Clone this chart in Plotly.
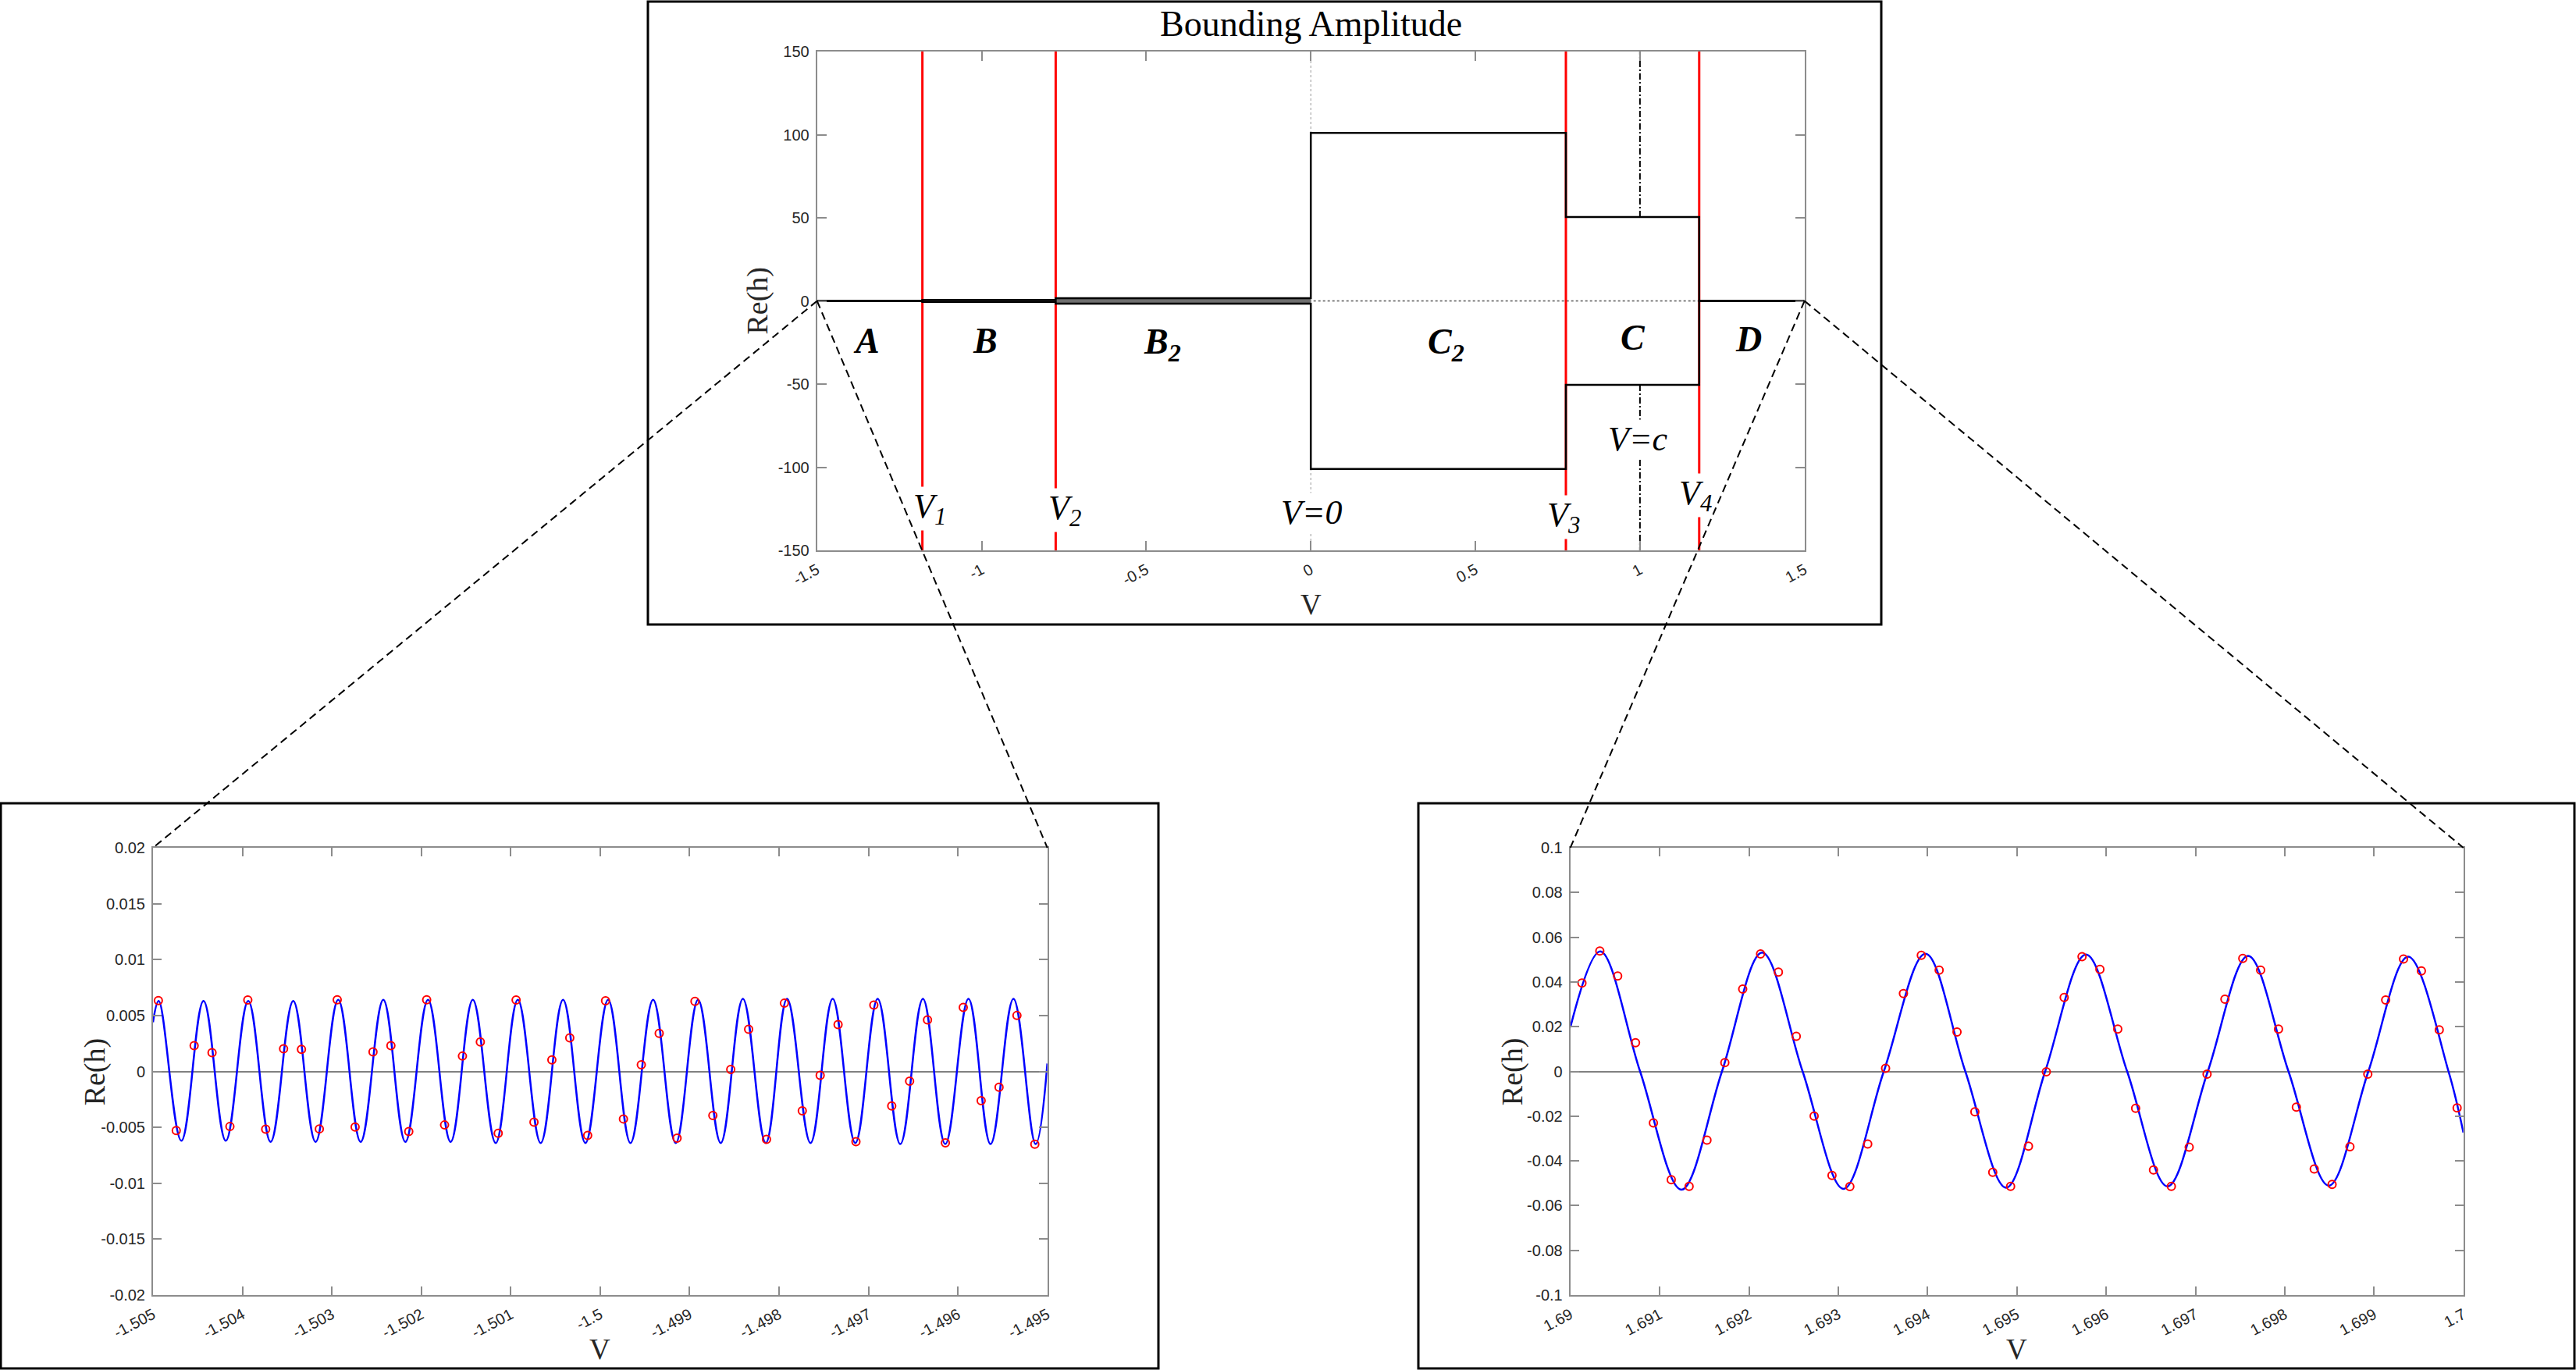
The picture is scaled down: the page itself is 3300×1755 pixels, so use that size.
import plotly.graph_objects as go

W, H = 3300, 1755

# ---------------- top panel: bounding amplitude ----------------
edges = [-1.5, -1.18, -0.775, 0.0, 0.775, 1.18, 1.5]
upper_env = [0, 0.6, 1.6, 101, 50.5, 0]
lower_env = [0, -0.6, -1.6, -101, -50.5, 0]
v_marks = [-1.18, -0.775, 0.775, 1.18]
v_c = 1.0
top_xrange = [-1.5, 1.5]
top_yrange = [-150, 150]
top_xticks = [-1.5, -1, -0.5, 0, 0.5, 1, 1.5]
top_xtext = ['-1.5', '-1', '-0.5', '0', '0.5', '1', '1.5']
top_yticks = [-150, -100, -50, 0, 50, 100, 150]
top_ytext = ['-150', '-100', '-50', '0', '50', '100', '150']
region_names = ['A', 'B', 'B<sub>2</sub>', 'C<sub>2</sub>', 'C', 'D']
v_names = ['V<sub>1</sub>', 'V<sub>2</sub>', 'V=0', 'V<sub>3</sub>', 'V<sub>4</sub>', 'V=c']

# label placement (data coords of the top axes)
region_lx = [-1.35, -0.99, -0.45, 0.41, 0.98, 1.33]
region_ly = [-24, -24, -26, -26, -22, -23]
vlab_x = [-1.158, -0.748, 0.002, 0.768, 1.168, 0.994]
vlab_y = [-125, -126, -127, -130, -117, -83]

# ---------------- bottom-left zoom ----------------
bl_xrange = [-1.505, -1.495]
bl_yrange = [-0.02, 0.02]
bl_xticks = [-1.505, -1.504, -1.503, -1.502, -1.501, -1.5, -1.499, -1.498, -1.497, -1.496, -1.495]
bl_xtext = ['-1.505', '-1.504', '-1.503', '-1.502', '-1.501', '-1.5', '-1.499', '-1.498', '-1.497', '-1.496', '-1.495']
bl_yticks = [-0.02, -0.015, -0.01, -0.005, 0, 0.005, 0.01, 0.015, 0.02]
bl_ytext = ['-0.02', '-0.015', '-0.01', '-0.005', '0', '0.005', '0.01', '0.015', '0.02']

bl_peak_x = [-1.504936, -1.504435, -1.503935, -1.503432, -1.502929, -1.502425, -1.501925,
             -1.501424, -1.500921, -1.500415, -1.499911, -1.499408, -1.498905, -1.498404,
             -1.497910, -1.497400, -1.496897, -1.496391, -1.495882, -1.495379]
bl_peak_y = [0.0063, 0.0063, 0.0063, 0.0063, 0.0064, 0.0064, 0.0064, 0.0064, 0.0064, 0.0064,
             0.0064, 0.0064, 0.0064, 0.0065, 0.0065, 0.0065, 0.0065, 0.0065, 0.0065, 0.0065]
bl_trough_x = [-1.504683, -1.504186, -1.503685, -1.503182, -1.502678, -1.502178, -1.501672,
               -1.501168, -1.500665, -1.500165, -1.499661, -1.499155, -1.498652, -1.498148,
               -1.497648, -1.497147, -1.496644, -1.496141, -1.495635, -1.495131]
bl_trough_y = [-0.0062, -0.0062, -0.0063, -0.0063, -0.0063, -0.0063, -0.0063, -0.0064, -0.0064,
               -0.0064, -0.0064, -0.0064, -0.0064, -0.0064, -0.0064, -0.0064, -0.0065, -0.0065,
               -0.0065, -0.0065]
bl_edge_x = [-1.505, -1.495]
bl_edge_y = [0.0044, 0.0007]

bl_samp_x = [-1.50494, -1.50474, -1.50454, -1.50434, -1.50414, -1.50394, -1.50374, -1.50354,
             -1.50334, -1.50314, -1.50294, -1.50274, -1.50254, -1.50234, -1.50214, -1.50194,
             -1.50174, -1.50154, -1.50134, -1.50114, -1.50094, -1.50074, -1.50054, -1.50034,
             -1.50014, -1.49994, -1.49974, -1.49954, -1.49934, -1.49914, -1.49894, -1.49874,
             -1.49854, -1.49834, -1.49814, -1.49794, -1.49774, -1.49754, -1.49734, -1.49714,
             -1.49694, -1.49674, -1.49654, -1.49634, -1.49614, -1.49594, -1.49574, -1.49554,
             -1.49534, -1.49514]
bl_samp_y = [0.00633, -0.00528, 0.0023, 0.00168, -0.00493, 0.00638, -0.00516, 0.00202, 0.00198,
             -0.00514, 0.0064, -0.00498, 0.00175, 0.0023, -0.00537, 0.0064, -0.00479, 0.00137,
             0.00263, -0.00553, 0.00638, -0.00453, 0.00103, 0.003, -0.00572, 0.00631, -0.00425,
             0.00059, 0.0034, -0.00597, 0.00626, -0.00395, 0.00017, 0.00377, -0.00608, 0.0061,
             -0.00353, -0.00035, 0.00419, -0.00628, 0.00593, -0.00309, -0.00088, 0.00461,
             -0.00639, 0.00572, -0.00262, -0.00142, 0.005, -0.00651]

# ---------------- bottom-right zoom ----------------
br_xrange = [1.69, 1.7]
br_yrange = [-0.1, 0.1]
br_xticks = [1.69, 1.691, 1.692, 1.693, 1.694, 1.695, 1.696, 1.697, 1.698, 1.699, 1.7]
br_xtext = ['1.69', '1.691', '1.692', '1.693', '1.694', '1.695', '1.696', '1.697', '1.698', '1.699', '1.7']
br_yticks = [-0.1, -0.08, -0.06, -0.04, -0.02, 0, 0.02, 0.04, 0.06, 0.08, 0.1]
br_ytext = ['-0.1', '-0.08', '-0.06', '-0.04', '-0.02', '0', '0.02', '0.04', '0.06', '0.08', '0.1']

br_peak_x = [1.690335, 1.692147, 1.693977, 1.695774, 1.697590, 1.699382]
br_peak_y = [0.0537, 0.0531, 0.0526, 0.0523, 0.0517, 0.0513]
br_trough_x = [1.691244, 1.693059, 1.694880, 1.696687, 1.698493]
br_trough_y = [-0.0529, -0.0525, -0.052, -0.0514, -0.0511]
br_zero_x = [1.690781, 1.691698, 1.692601, 1.693510, 1.694423, 1.695317, 1.696235,
             1.697138, 1.698042, 1.698936, 1.699834]
br_edge_x = [1.69, 1.7]
br_edge_y = [0.0197, -0.0273]

br_samp_x = [1.69013, 1.69033, 1.69053, 1.69073, 1.69093, 1.69113, 1.69133, 1.69153, 1.69173,
             1.69193, 1.69213, 1.69233, 1.69253, 1.69273, 1.69293, 1.69313, 1.69333, 1.69353,
             1.69373, 1.69393, 1.69413, 1.69433, 1.69453, 1.69473, 1.69493, 1.69513, 1.69533,
             1.69553, 1.69573, 1.69593, 1.69613, 1.69633, 1.69653, 1.69673, 1.69693, 1.69713,
             1.69733, 1.69753, 1.69773, 1.69793, 1.69813, 1.69833, 1.69853, 1.69873, 1.69893,
             1.69913, 1.69933, 1.69953, 1.69973, 1.69993]
br_samp_y = [0.0395, 0.0538, 0.0427, 0.0128, -0.023, -0.0484, -0.0514, -0.0307, 0.0039, 0.0368,
             0.0525, 0.0444, 0.0157, -0.02, -0.0465, -0.0515, -0.0325, 0.0014, 0.0348, 0.0519,
             0.0453, 0.0176, -0.0181, -0.0451, -0.0514, -0.0334, -0.0002, 0.0331, 0.0513, 0.0456,
             0.0189, -0.0165, -0.0441, -0.0514, -0.0339, -0.0012, 0.0323, 0.0505, 0.0453, 0.0189,
             -0.016, -0.0436, -0.0505, -0.0337, -0.0012, 0.0319, 0.0503, 0.0449, 0.0186, -0.0163]


def merged(*pairs):
    pts = sorted(p for xs, ys in pairs for p in zip(xs, ys))
    return [p[0] for p in pts], [p[1] for p in pts]


def px(x):
    return x / W


def py(y):
    return 1 - y / H


# axis domains (pixel boxes of the three plot areas)
top_xd = [px(1046.7), px(2311.7)]
top_yd = [py(705), py(66)]
bl_xd = [px(196), px(1341.7)]
br_xd = [px(2011.7), px(3155.7)]
bot_yd = [py(1659), py(1086)]

SERIF = 'Liberation Serif'
SANS = 'Liberation Sans'

fig = go.Figure()

# --- top panel traces
fig.add_trace(go.Scatter(
    x=[v for v in v_marks for _ in range(3)],
    y=[top_yrange[0], top_yrange[1], None] * len(v_marks),
    mode='lines', line=dict(color='#ff0000', width=3), xaxis='x', yaxis='y'))
fig.add_trace(go.Scatter(
    x=[v_c, v_c, None, v_c, v_c],
    y=[upper_env[4], top_yrange[1], None, lower_env[4], top_yrange[0]],
    mode='lines', line=dict(color='black', width=2, dash='8px,3px,2px,3px'),
    xaxis='x', yaxis='y'))
# thin oscillation bands in B and B2
for i in (1, 2):
    fig.add_trace(go.Scatter(x=[edges[i], edges[i + 1]], y=[lower_env[i]] * 2, mode='lines',
                             line=dict(width=0), xaxis='x', yaxis='y'))
    fig.add_trace(go.Scatter(x=[edges[i], edges[i + 1]], y=[upper_env[i]] * 2, mode='lines',
                             line=dict(width=0), fill='tonexty', fillcolor='#6e6e6e',
                             xaxis='x', yaxis='y'))
fig.add_trace(go.Scatter(
    x=edges, y=upper_env + [upper_env[-1]], mode='lines', line_shape='hv',
    line=dict(color='black', width=2.5), xaxis='x', yaxis='y'))
fig.add_trace(go.Scatter(
    x=edges, y=lower_env + [lower_env[-1]], mode='lines', line_shape='hv',
    line=dict(color='black', width=2.5), xaxis='x', yaxis='y'))

# --- bottom-left traces
cx, cy = merged((bl_edge_x, bl_edge_y), (bl_peak_x, bl_peak_y), (bl_trough_x, bl_trough_y))
fig.add_trace(go.Scatter(x=cx, y=cy, mode='lines', line=dict(color='#0000ff', width=2.5, shape='spline', smoothing=1.1),
                         xaxis='x2', yaxis='y2'))
fig.add_trace(go.Scatter(x=bl_samp_x, y=bl_samp_y, mode='markers',
                         marker=dict(symbol='circle-open', size=10, color='#ff0000', line=dict(width=2)),
                         xaxis='x2', yaxis='y2'))

# --- bottom-right traces
cx, cy = merged((br_edge_x, br_edge_y), (br_peak_x, br_peak_y), (br_trough_x, br_trough_y),
                (br_zero_x, [0] * len(br_zero_x)))
fig.add_trace(go.Scatter(x=cx, y=cy, mode='lines', line=dict(color='#0000ff', width=2.5, shape='spline', smoothing=1.0),
                         xaxis='x3', yaxis='y3'))
fig.add_trace(go.Scatter(x=br_samp_x, y=br_samp_y, mode='markers',
                         marker=dict(symbol='circle-open', size=10, color='#ff0000', line=dict(width=2)),
                         xaxis='x3', yaxis='y3'))

axis_style = dict(showline=True, linecolor='#8c8c8c', linewidth=2, mirror='ticks',
                  ticks='inside', ticklen=12, tickwidth=2, tickcolor='#8c8c8c',
                  showgrid=False, zeroline=False, fixedrange=True, automargin=False,
                  tickfont=dict(family=SANS, size=20, color='#262626'))

fig.update_layout(
    width=W, height=H, autosize=False, showlegend=False,
    margin=dict(l=0, r=0, t=0, b=0, pad=0),
    paper_bgcolor='white', plot_bgcolor='white',
    xaxis=dict(axis_style, domain=top_xd, anchor='y', range=top_xrange,
               tickvals=top_xticks, ticktext=top_xtext, tickangle=-28, ticklabelstandoff=4),
    yaxis=dict(axis_style, domain=top_yd, anchor='x', range=top_yrange,
               tickvals=top_yticks, ticktext=top_ytext, ticklabelstandoff=4),
    xaxis2=dict(axis_style, domain=bl_xd, anchor='y2', range=bl_xrange,
                tickvals=bl_xticks, ticktext=bl_xtext, tickangle=-28, ticklen=11, ticklabelstandoff=4),
    yaxis2=dict(axis_style, domain=bot_yd, anchor='x2', range=bl_yrange,
                tickvals=bl_yticks, ticktext=bl_ytext, ticklen=11, ticklabelstandoff=4,
                zeroline=True, zerolinecolor='#808080', zerolinewidth=2),
    xaxis3=dict(axis_style, domain=br_xd, anchor='y3', range=br_xrange,
                tickvals=br_xticks, ticktext=br_xtext, tickangle=-28, ticklen=11, ticklabelstandoff=4),
    yaxis3=dict(axis_style, domain=bot_yd, anchor='x3', range=br_yrange,
                tickvals=br_yticks, ticktext=br_ytext, ticklen=11, ticklabelstandoff=4,
                zeroline=True, zerolinecolor='#808080', zerolinewidth=2),
)

# dotted reference lines in the top panel
fig.add_shape(type='line', xref='x', yref='y', x0=top_xrange[0], x1=top_xrange[1], y0=0, y1=0,
              line=dict(color='#555555', width=1.5, dash='dot'), layer='below')
fig.add_shape(type='line', xref='x', yref='y', x0=0, x1=0, y0=top_yrange[0], y1=top_yrange[1],
              line=dict(color='#999999', width=1, dash='dot'), layer='below')

# panel frames
for x0, y0, x1, y1 in [(830, 2, 2410, 800), (1, 1029, 1484, 1753), (1817, 1029, 3298, 1753)]:
    fig.add_shape(type='rect', xref='paper', yref='paper', x0=px(x0), x1=px(x1), y0=py(y1), y1=py(y0),
                  line=dict(color='black', width=3), fillcolor='rgba(0,0,0,0)', layer='above')

# zoom connectors: from the ends of the top x-range to the corners of the zoom panels
y_mid = top_yd[0] + (0 - top_yrange[0]) / (top_yrange[1] - top_yrange[0]) * (top_yd[1] - top_yd[0])
for xs, xd in [(top_xd[0], bl_xd), (top_xd[1], br_xd)]:
    for xe in xd:
        fig.add_shape(type='line', xref='paper', yref='paper', x0=xs, y0=y_mid, x1=xe, y1=bot_yd[1],
                      line=dict(color='black', width=2, dash='10px,6px'), layer='above')

ann = []
ann.append(dict(xref='paper', yref='paper', x=px(1679), y=py(30), text='Bounding Amplitude',
                font=dict(family=SERIF, size=46, color='black'), showarrow=False,
                xanchor='center', yanchor='middle'))
for xa, ya, xoff in [('x', 'y', -0.0606), ('x2', 'y2', -0.0647), ('x3', 'y3', -0.0647)]:
    ann.append(dict(xref=xa + ' domain', yref=ya + ' domain', x=xoff, y=0.5, text='Re(h)',
                    textangle=-90, font=dict(family=SERIF, size=38, color='#262626'),
                    showarrow=False, xanchor='center', yanchor='middle'))
for xa, ya, yoff in [('x', 'y', -0.1095), ('x2', 'y2', -0.122), ('x3', 'y3', -0.122)]:
    ann.append(dict(xref=xa + ' domain', yref=ya + ' domain', x=0.5, y=yoff, text='V',
                    font=dict(family=SERIF, size=37, color='#262626'),
                    showarrow=False, xanchor='center', yanchor='middle'))
for name, lx, ly in zip(region_names, region_lx, region_ly):
    ann.append(dict(xref='x', yref='y', x=lx, y=ly, text='<b><i>' + name + '</i></b>',
                    font=dict(family=SERIF, size=46, color='black'), showarrow=False,
                    xanchor='center', yanchor='middle'))
for name, lx, ly in zip(v_names, vlab_x, vlab_y):
    ann.append(dict(xref='x', yref='y', x=lx, y=ly, text='<i>' + name + '</i>',
                    font=dict(family=SERIF, size=44, color='black'), showarrow=False,
                    xanchor='center', yanchor='middle', bgcolor='white', borderpad=0))
fig.update_layout(annotations=ann)

fig.write_html("out.html", config={'displayModeBar': False},
               post_script="document.body.style.margin='0';document.body.style.overflow='hidden';")
